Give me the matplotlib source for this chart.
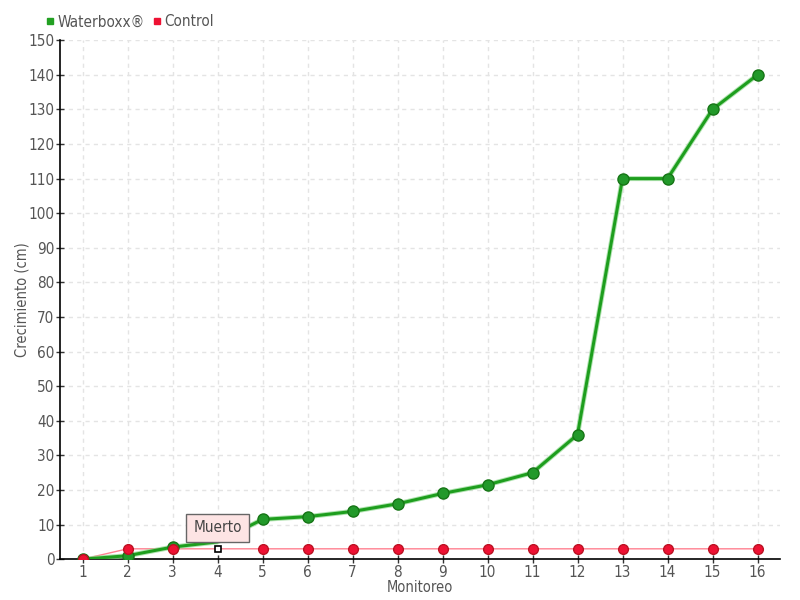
import numpy as np
import matplotlib
matplotlib.use("Agg")
import matplotlib.pyplot as plt

plt.rcParams['font.family'] = ['DejaVu Sans']
plt.rcParams['font.stretch'] = 'condensed'

monitoreo = np.arange(1, 17)
waterboxx = [0, 1, 3.5, 5, 11.5, 12.3, 13.8, 16, 19, 21.5, 25, 36, 110, 110, 130, 140]
control = [0, 3, 3, 3, 3, 3, 3, 3, 3, 3, 3, 3, 3, 3, 3, 3]
muerto_idx = 3

fig = plt.figure(figsize=(8, 6), dpi=100)
ax = fig.add_axes([0.075, 0.068, 0.9, 0.865])

txt = '#555555'

# control line (thin red)
ax.plot(monitoreo, control, color='#ff8090', lw=1.0, zorder=3)
mask = np.arange(len(control)) != muerto_idx
ax.plot(monitoreo[mask], np.array(control)[mask], 'o', ms=7, color='#ee1133',
        mec='#bb1122', mew=1, zorder=5)
ax.plot(monitoreo[muerto_idx], control[muerto_idx], 's', ms=5, color='white',
        mec='black', mew=1.2, zorder=9)

# waterboxx line (green with light halo)
ax.plot(monitoreo, waterboxx, color='#8fd88f', lw=3.6, alpha=0.7, zorder=3)
ax.plot(monitoreo, waterboxx, color='#1e9e1e', lw=2.2, zorder=4)
wmask = np.arange(len(waterboxx)) != muerto_idx
ax.plot(monitoreo[wmask], np.array(waterboxx)[wmask], 'o', ms=8, color='#22992a',
        mec='#167516', mew=1, zorder=4)

ax.annotate('Muerto', xy=(monitoreo[muerto_idx], control[muerto_idx]),
            xytext=(0, 15), textcoords='offset points', ha='center', va='center',
            fontsize=11, color='#444444', zorder=8,
            bbox=dict(boxstyle='square,pad=0.45', fc='#fde4e4', ec='#666666', lw=1))

ax.set_xlim(0.5, 16.5)
ax.set_ylim(0, 150)
ax.set_xticks(monitoreo)
ax.set_yticks(np.arange(0, 151, 10))
ax.grid(True, color='#e4e4e4', ls=(0, (3, 3)), lw=1)
ax.set_axisbelow(True)
for s in ['top', 'right']:
    ax.spines[s].set_visible(False)
for s in ['left', 'bottom']:
    ax.spines[s].set_color('black')
    ax.spines[s].set_linewidth(1.2)
ax.tick_params(direction='inout', length=6, width=1, colors='#333333',
               labelcolor=txt, labelsize=11, pad=1)

ax.set_xlabel('Monitoreo', fontsize=10.5, color=txt)
ax.set_ylabel('Crecimiento (cm)', fontsize=10.5, color=txt)
ax.xaxis.set_label_coords(0.5, -0.04)
ax.yaxis.set_label_coords(-0.043, 0.5)

h1 = plt.Line2D([], [], ls='', marker='s', ms=5, color='#22a022')
h2 = plt.Line2D([], [], ls='', marker='s', ms=5, color='#ee1133')
fig.legend([h1, h2], ['Waterboxx®', 'Control'], loc='upper left',
           bbox_to_anchor=(0.058, 0.976), ncol=2, frameon=False, fontsize=11,
           handlelength=0.5, handletextpad=0.2, columnspacing=0.6,
           labelcolor=txt, borderpad=0, borderaxespad=0)

fig.savefig('out.png', dpi=100)
